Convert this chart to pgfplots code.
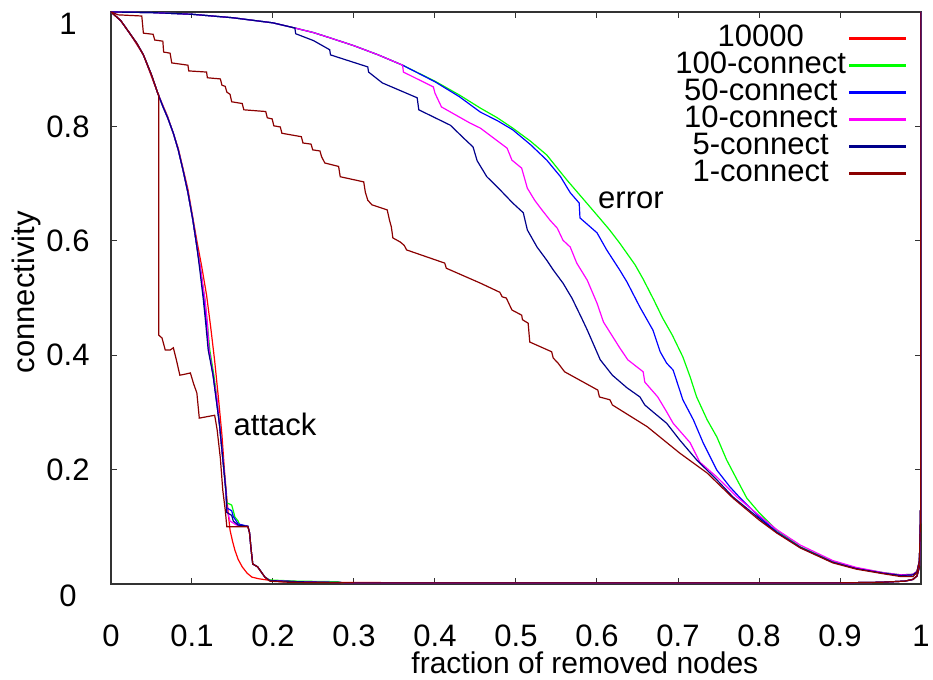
\documentclass[border=0pt]{standalone}
\usepackage{fontspec}
\setmainfont{Liberation Sans}
\usepackage{pgfplots}
\pgfplotsset{compat=1.18}
\definecolor{cred}{RGB}{255,0,0}
\definecolor{cgreen}{RGB}{0,255,0}
\definecolor{cblue}{RGB}{0,0,255}
\definecolor{cmag}{RGB}{255,0,255}
\definecolor{cnavy}{RGB}{0,0,139}
\definecolor{cmaroon}{RGB}{139,0,0}
\begin{document}
\fontsize{15.5}{18}\selectfont
\begin{tikzpicture}
\begin{axis}[
    name=ax,
    scale only axis,
    width=405pt, height=286pt,
    xmin=0, xmax=1, ymin=0, ymax=1,
    xtick={0,0.1,...,1.01},
    ytick={0.2,0.4,0.6,0.8},
    extra y ticks={0,1},
    extra y tick style={yticklabel style={yshift=-6pt}},
    tick align=inside,
    major tick length=3pt,
    tick style={black!80, line width=0.5pt},
    axis line style={black!80, line width=0.7pt},
    /pgf/number format/assume math mode=true,
    xticklabel style={anchor=center, inner sep=0pt, yshift=-26pt},
    yticklabel style={anchor=center, inner sep=0pt, xshift=-21.5pt},
    xlabel={fraction of removed nodes},
    ylabel={connectivity},
    xlabel style={at={(axis description cs:0.585,-0.157)}, anchor=base, inner sep=0pt, font=\fontsize{15}{18}\selectfont},
    ylabel style={at={(axis description cs:-0.104,0.51)}, anchor=center, inner sep=0pt},
    legend plot pos=right,
    legend cell align=center,
    legend image code/.code={\draw[#1, line width=1.3pt] (0pt,0pt) -- (28.5pt,0pt);},
    legend style={at={(0.984,0.978)}, anchor=north east, draw=none, fill=none,
        inner sep=0pt, row sep=0pt, column sep=1pt,
        nodes={inner sep=0pt, text height=11pt, text depth=2.5pt}},
    every axis plot/.append style={line width=0.6pt},
]
% attack
\addplot[color=cred] coordinates {(0,1) (0.012,0.985) (0.023,0.963) (0.040,0.925) (0.058,0.857) (0.070,0.817) (0.083,0.762) (0.095,0.690) (0.106,0.600) (0.112,0.555) (0.118,0.505) (0.123,0.45) (0.128,0.39) (0.133,0.32) (0.137,0.26) (0.140,0.2) (0.143,0.15) (0.145,0.12) (0.147,0.094) (0.150,0.075) (0.153,0.059) (0.157,0.043) (0.162,0.030) (0.168,0.019) (0.174,0.012) (0.183,0.009) (0.193,0.007) (0.21,0.004) (0.25,0.003) (0.4,0.002) (0.7,0.002) (0.9,0.002) (0.95,0.003) (0.98,0.005) (0.99,0.008) (0.995,0.014) (0.998,0.03) (0.9995,0.12) (1,1)};
\addlegendentry{10000}
\addplot[color=cgreen] coordinates {(0,1) (0.012,0.985) (0.023,0.963) (0.032,0.945) (0.040,0.925) (0.050,0.890) (0.058,0.857) (0.064,0.835) (0.070,0.815) (0.077,0.788) (0.083,0.759) (0.089,0.723) (0.095,0.684) (0.101,0.637) (0.106,0.590) (0.111,0.545) (0.116,0.497) (0.119,0.455) (0.122,0.409) (0.127,0.365) (0.131,0.322) (0.134,0.278) (0.137,0.234) (0.140,0.19) (0.142,0.16) (0.143,0.142) (0.149,0.138) (0.151,0.128) (0.153,0.117) (0.157,0.11) (0.159,0.103) (0.169,0.101) (0.171,0.09) (0.173,0.06) (0.175,0.035) (0.181,0.03) (0.186,0.02) (0.19,0.012) (0.196,0.007) (0.23,0.005) (0.28,0.004) (0.285,0.002) (0.6,0.002) (0.9,0.002) (0.95,0.003) (0.98,0.005) (0.99,0.008) (0.995,0.014) (0.998,0.03) (0.9995,0.12) (1,1)};
\addlegendentry{100-connect}
\addplot[color=cblue] coordinates {(0,1) (0.012,0.985) (0.023,0.963) (0.032,0.945) (0.040,0.925) (0.050,0.890) (0.058,0.857) (0.064,0.835) (0.070,0.815) (0.077,0.788) (0.083,0.759) (0.089,0.723) (0.095,0.684) (0.101,0.637) (0.106,0.590) (0.111,0.545) (0.115,0.497) (0.118,0.455) (0.121,0.409) (0.126,0.365) (0.130,0.322) (0.134,0.278) (0.137,0.234) (0.140,0.19) (0.142,0.16) (0.143,0.133) (0.149,0.128) (0.151,0.118) (0.157,0.105) (0.169,0.101) (0.171,0.09) (0.173,0.06) (0.175,0.035) (0.181,0.03) (0.186,0.02) (0.19,0.012) (0.196,0.006) (0.23,0.004) (0.3,0.002) (0.6,0.002) (0.9,0.002) (0.95,0.003) (0.98,0.005) (0.99,0.008) (0.995,0.014) (0.998,0.03) (0.9995,0.12) (1,1)};
\addlegendentry{50-connect}
\addplot[color=cmag] coordinates {(0,1) (0.012,0.985) (0.023,0.963) (0.032,0.945) (0.040,0.925) (0.050,0.890) (0.058,0.857) (0.064,0.835) (0.070,0.815) (0.077,0.788) (0.083,0.759) (0.089,0.723) (0.095,0.684) (0.101,0.637) (0.106,0.590) (0.111,0.545) (0.116,0.497) (0.119,0.455) (0.121,0.409) (0.126,0.365) (0.131,0.322) (0.134,0.278) (0.137,0.234) (0.140,0.19) (0.142,0.16) (0.143,0.13) (0.147,0.11) (0.155,0.103) (0.169,0.101) (0.171,0.09) (0.173,0.06) (0.175,0.035) (0.181,0.03) (0.186,0.02) (0.19,0.012) (0.196,0.006) (0.23,0.004) (0.3,0.002) (0.6,0.002) (0.9,0.002) (0.95,0.003) (0.98,0.005) (0.99,0.008) (0.995,0.014) (0.998,0.03) (0.9995,0.12) (1,1)};
\addlegendentry{10-connect}
\addplot[color=cnavy] coordinates {(0,1) (0.012,0.985) (0.023,0.963) (0.032,0.945) (0.040,0.925) (0.050,0.890) (0.058,0.857) (0.064,0.835) (0.070,0.815) (0.077,0.788) (0.083,0.759) (0.089,0.723) (0.095,0.684) (0.101,0.637) (0.106,0.590) (0.110,0.545) (0.114,0.497) (0.117,0.455) (0.120,0.409) (0.126,0.365) (0.130,0.322) (0.134,0.278) (0.137,0.234) (0.140,0.19) (0.142,0.16) (0.143,0.125) (0.149,0.12) (0.151,0.11) (0.157,0.103) (0.169,0.101) (0.171,0.09) (0.173,0.06) (0.175,0.035) (0.181,0.03) (0.186,0.02) (0.19,0.012) (0.196,0.006) (0.23,0.004) (0.3,0.002) (0.6,0.002) (0.9,0.002) (0.95,0.003) (0.98,0.005) (0.99,0.008) (0.995,0.014) (0.998,0.03) (0.9995,0.12) (1,1)};
\addlegendentry{5-connect}
\addplot[color=cmaroon] coordinates {(0,1) (0.012,0.985) (0.023,0.963) (0.032,0.945) (0.040,0.925) (0.050,0.890) (0.058,0.857) (0.059,0.855) (0.059,0.435) (0.063,0.43) (0.067,0.409) (0.073,0.409) (0.077,0.413) (0.081,0.39) (0.085,0.365) (0.092,0.367) (0.098,0.369) (0.102,0.35) (0.106,0.334) (0.109,0.29) (0.128,0.295) (0.131,0.27) (0.135,0.22) (0.138,0.164) (0.141,0.13) (0.143,0.1) (0.169,0.1) (0.171,0.09) (0.173,0.06) (0.175,0.035) (0.181,0.03) (0.186,0.02) (0.19,0.012) (0.196,0.005) (0.22,0.003) (0.3,0.002) (0.6,0.002) (0.9,0.002) (0.95,0.003) (0.98,0.005) (0.99,0.008) (0.995,0.014) (0.998,0.03) (0.9995,0.12) (1,1)};
\addlegendentry{1-connect}
% error
\addplot[color=cgreen, forget plot] coordinates {(0,1) (0.05,0.999) (0.1,0.996) (0.15,0.99) (0.2,0.981) (0.227,0.972) (0.25,0.964) (0.27,0.955) (0.3,0.941) (0.33,0.925) (0.36,0.907) (0.4,0.879) (0.43,0.855) (0.456,0.832) (0.477,0.815) (0.496,0.797) (0.518,0.774) (0.538,0.750) (0.563,0.706) (0.58,0.678) (0.6,0.645) (0.615,0.62) (0.628,0.596) (0.647,0.558) (0.657,0.533) (0.67,0.497) (0.681,0.465) (0.693,0.435) (0.706,0.397) (0.715,0.362) (0.723,0.327) (0.736,0.287) (0.748,0.257) (0.76,0.217) (0.773,0.182) (0.785,0.15) (0.80,0.125) (0.822,0.094) (0.851,0.065) (0.891,0.040) (0.92,0.028) (0.953,0.02) (0.975,0.016) (0.99,0.017) (0.995,0.022) (0.998,0.04) (0.9995,0.12) (1,1)};
\addplot[color=cblue, forget plot] coordinates {(0,1) (0.05,0.999) (0.1,0.996) (0.15,0.99) (0.2,0.981) (0.227,0.972) (0.25,0.964) (0.27,0.955) (0.3,0.941) (0.33,0.925) (0.36,0.907) (0.4,0.878) (0.43,0.852) (0.456,0.825) (0.477,0.81) (0.496,0.794) (0.518,0.768) (0.538,0.741) (0.555,0.712) (0.567,0.684) (0.578,0.666) (0.579,0.640) (0.6,0.614) (0.612,0.584) (0.628,0.549) (0.637,0.528) (0.653,0.484) (0.669,0.444) (0.678,0.406) (0.686,0.386) (0.694,0.374) (0.706,0.322) (0.719,0.287) (0.731,0.247) (0.748,0.199) (0.764,0.170) (0.777,0.150) (0.80,0.118) (0.822,0.091) (0.851,0.064) (0.891,0.038) (0.92,0.027) (0.953,0.019) (0.975,0.015) (0.99,0.016) (0.995,0.021) (0.998,0.04) (0.9995,0.12) (1,1)};
\addplot[color=cmag, forget plot] coordinates {(0,1) (0.05,0.999) (0.1,0.996) (0.15,0.99) (0.2,0.981) (0.227,0.972) (0.25,0.964) (0.27,0.955) (0.3,0.941) (0.33,0.925) (0.36,0.907) (0.361,0.895) (0.398,0.869) (0.40,0.858) (0.408,0.834) (0.443,0.806) (0.456,0.797) (0.489,0.762) (0.495,0.741) (0.507,0.727) (0.514,0.692) (0.523,0.671) (0.532,0.654) (0.542,0.636) (0.551,0.622) (0.558,0.601) (0.567,0.589) (0.575,0.561) (0.588,0.531) (0.6,0.491) (0.608,0.458) (0.628,0.413) (0.638,0.392) (0.657,0.371) (0.659,0.353) (0.675,0.327) (0.686,0.301) (0.694,0.281) (0.715,0.247) (0.727,0.213) (0.748,0.187) (0.773,0.152) (0.80,0.12) (0.822,0.095) (0.851,0.068) (0.891,0.041) (0.92,0.029) (0.953,0.02) (0.975,0.016) (0.99,0.017) (0.995,0.022) (0.998,0.04) (0.9995,0.12) (1,1)};
\addplot[color=cnavy, forget plot] coordinates {(0,1) (0.05,0.999) (0.1,0.996) (0.15,0.99) (0.2,0.981) (0.227,0.972) (0.228,0.962) (0.25,0.950) (0.27,0.934) (0.271,0.925) (0.317,0.904) (0.318,0.895) (0.335,0.876) (0.378,0.850) (0.38,0.829) (0.419,0.802) (0.435,0.780) (0.447,0.764) (0.452,0.740) (0.464,0.712) (0.477,0.694) (0.496,0.666) (0.509,0.649) (0.514,0.619) (0.526,0.589) (0.538,0.566) (0.546,0.549) (0.558,0.526) (0.569,0.5) (0.581,0.465) (0.588,0.444) (0.604,0.392) (0.619,0.365) (0.637,0.343) (0.653,0.327) (0.659,0.313) (0.669,0.301) (0.686,0.281) (0.702,0.252) (0.723,0.217) (0.748,0.182) (0.768,0.152) (0.80,0.115) (0.822,0.09) (0.851,0.064) (0.891,0.038) (0.92,0.027) (0.953,0.019) (0.975,0.015) (0.99,0.016) (0.995,0.021) (0.998,0.04) (0.9995,0.12) (1,1)};
\addplot[color=cmaroon, forget plot] coordinates {(0,1) (0.009,0.995) (0.038,0.993) (0.04,0.963) (0.052,0.961) (0.054,0.951) (0.064,0.949) (0.065,0.930) (0.073,0.928) (0.075,0.911) (0.095,0.907) (0.096,0.897) (0.118,0.895) (0.119,0.885) (0.135,0.883) (0.137,0.872) (0.141,0.870) (0.143,0.860) (0.147,0.856) (0.149,0.843) (0.162,0.840) (0.164,0.829) (0.191,0.826) (0.193,0.815) (0.199,0.813) (0.201,0.801) (0.209,0.799) (0.211,0.788) (0.235,0.782) (0.237,0.771) (0.247,0.769) (0.249,0.759) (0.258,0.757) (0.260,0.747) (0.264,0.736) (0.281,0.730) (0.283,0.712) (0.312,0.703) (0.314,0.685) (0.317,0.671) (0.322,0.663) (0.341,0.654) (0.344,0.635) (0.346,0.625) (0.348,0.605) (0.357,0.598) (0.362,0.592) (0.365,0.584) (0.412,0.561) (0.414,0.552) (0.456,0.526) (0.480,0.510) (0.483,0.502) (0.488,0.500) (0.495,0.479) (0.507,0.470) (0.508,0.462) (0.515,0.456) (0.517,0.423) (0.544,0.406) (0.546,0.395) (0.552,0.386) (0.560,0.371) (0.601,0.339) (0.603,0.327) (0.616,0.322) (0.619,0.313) (0.662,0.275) (0.702,0.229) (0.736,0.194) (0.768,0.150) (0.80,0.112) (0.822,0.089) (0.851,0.063) (0.891,0.037) (0.92,0.026) (0.953,0.018) (0.975,0.013) (0.99,0.013) (0.995,0.02) (0.998,0.04) (0.9995,0.12) (1,1)};
\node[anchor=base west, inner sep=0pt] at (axis cs:0.601,0.657) {error};
\node[anchor=base west, inner sep=0pt] at (axis cs:0.151,0.260) {attack};
\end{axis}
\pgfresetboundingbox
\path[use as bounding box] ([shift={(-55.5pt,-48pt)}]ax.south west) rectangle ([shift={(411pt,292pt)}]ax.south west);
\end{tikzpicture}
\end{document}
